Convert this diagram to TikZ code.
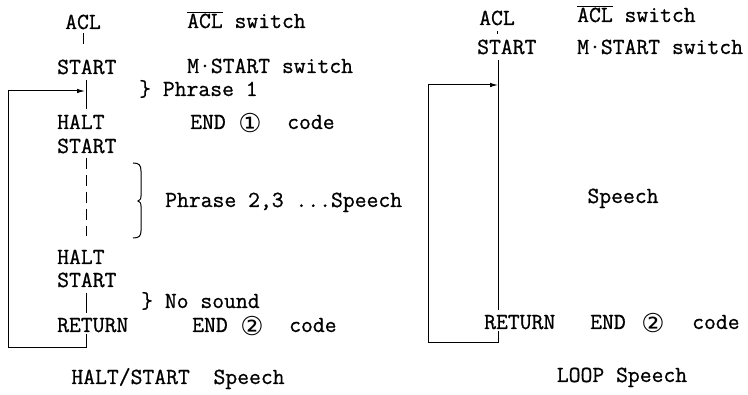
\documentclass[tikz,border=0pt]{standalone}
\usepackage{fontspec}
\newfontfamily\symfont{DejaVu Sans}
\newfontfamily\twfont{Latin Modern Mono}[FakeBold=0.8]
\usetikzlibrary{arrows.meta}
\begin{document}
\begin{tikzpicture}[x=1pt,y=-1pt,
  font=\twfont\fontsize{23}{27}\selectfont,
  txt/.style={anchor=base west,inner sep=2pt},
  ctxt/.style={anchor=base,inner sep=2pt},
  circ/.style={anchor=center,inner sep=0pt,font=\symfont\fontsize{26}{28}\selectfont},
  ln/.style={line width=1pt},
  gapln/.style={line width=1pt,shorten <=4pt,shorten >=3pt},
  loopline/.style={line width=1pt,-{Latex[length=8pt,width=4.5pt]}},
  dashln/.style={line width=1pt,dash pattern=on 11pt off 6pt}]
\useasboundingbox (0,0) rectangle (748,395);

% ---------- left diagram ----------
\node[ctxt] (aclA) at (83,29) {ACL};
\node[txt] (swA) at (185,28) {$\overline{\mbox{ACL}}$ switch};
\node[txt] (stA) at (55,74) {START};
\node[txt] (mA) at (185,73) {M·START switch};
\node[txt] (phA) at (137,96) {\} Phrase 1};
\node[txt] (hA) at (55,129) {HALT};
\node[txt] (eA) at (188,129) {END};
\node[circ] (cA) at (250,123) {①};
\node[txt] (kA) at (285,129) {code};
\node[txt] (stB) at (55,153) {START};
\node[txt] (phB) at (163,207) {Phrase 2,3 ...Speech};
\node[txt] (hB) at (55,264) {HALT};
\node[txt] (stC) at (55,287) {START};
\node[txt] (nsA) at (139,308) {\} No sound};
\node[txt] (rA) at (55,332) {RETURN};
\node[txt] (eB) at (190,332) {END};
\node[circ] (cB) at (252,326) {②};
\node[txt] (kB) at (287,332) {code};
\node[ctxt] (tA) at (178,384) {HALT/START~~Speech};

\coordinate (jA) at (85,91);
\coordinate (lbA) at (8,348);

\draw[ln] (aclA.south) ++(0,2) -- ++(0,11);
\draw[gapln] (stA.south) -- (stA.south |- hA.north);
\draw[dashln] (stB.south) ++(0,3) -- ++(0,78);
\draw[gapln] (stC.south) -- (stC.south |- rA.north);
\draw[loopline] (stC.south |- rA.south) |- (lbA) |- (jA);

% bracket for phrase 2,3
\draw[ln] (133,163) .. controls (139,163) and (141,165) .. (141,171)
  -- (141,196) .. controls (141,199) .. (138,201)
  .. controls (141,203) .. (141,206) -- (141,231)
  .. controls (141,236) and (139,238) .. (133,238);

% ---------- right diagram ----------
\node[ctxt] (aclR) at (497,25) {ACL};
\node[txt] (swR) at (575,22) {$\overline{\mbox{ACL}}$ switch};
\node[txt] (stR) at (475,54) {START};
\node[txt] (mR) at (575,54) {M·START switch};
\node[ctxt] (spR) at (623,203) {Speech};
\node[txt] (rR) at (482,329) {RETURN};
\node[txt] (eR) at (588,329) {END};
\node[circ] (cR) at (653,323) {②};
\node[txt] (kR) at (690,329) {code};
\node[ctxt] (tR) at (622,382) {LOOP Speech};

\coordinate (jR) at (498,85);
\coordinate (lbR) at (428,343);

\draw[gapln] (aclR.south) -- (aclR.south |- stR.north);
\draw[gapln] (jR |- stR.south) -- (jR |- rR.north);
\draw[loopline] (jR |- rR.south) |- (lbR) |- (jR);
\end{tikzpicture}
\end{document}
